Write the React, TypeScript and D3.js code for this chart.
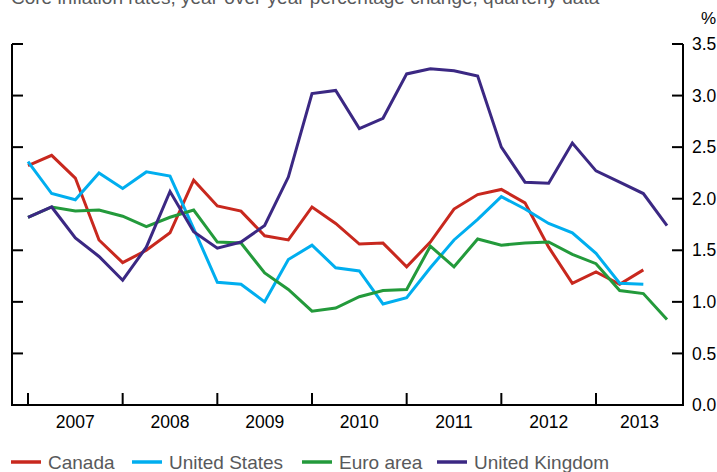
import React from "react";
import { scaleLinear, line, range, format } from "d3";

const years = ["2007", "2008", "2009", "2010", "2011", "2012", "2013"];
const yTicks = [0, 0.5, 1, 1.5, 2, 2.5, 3, 3.5];

// quarterly, 2007Q1 onward
const canada = [2.32, 2.42, 2.2, 1.6, 1.38, 1.5, 1.67, 2.18, 1.93, 1.88, 1.64, 1.6, 1.92, 1.76, 1.56, 1.57, 1.34, 1.58, 1.9, 2.04, 2.09, 1.96, 1.53, 1.18, 1.29, 1.17, 1.31];
const unitedStates = [2.36, 2.05, 1.99, 2.25, 2.1, 2.26, 2.22, 1.71, 1.19, 1.17, 1.0, 1.41, 1.55, 1.33, 1.3, 0.98, 1.04, 1.33, 1.6, 1.8, 2.02, 1.9, 1.76, 1.67, 1.47, 1.18, 1.17];
const euroArea = [1.82, 1.92, 1.88, 1.89, 1.83, 1.73, 1.82, 1.89, 1.58, 1.57, 1.28, 1.12, 0.91, 0.94, 1.05, 1.11, 1.12, 1.54, 1.34, 1.61, 1.55, 1.57, 1.58, 1.46, 1.37, 1.11, 1.08, 0.83];
const unitedKingdom = [1.82, 1.92, 1.62, 1.44, 1.21, 1.53, 2.07, 1.68, 1.52, 1.58, 1.74, 2.21, 3.02, 3.05, 2.68, 2.78, 3.21, 3.26, 3.24, 3.19, 2.5, 2.16, 2.15, 2.54, 2.27, 2.16, 2.05, 1.74];

const series = [
  { name: "Canada", values: canada, color: "#c8281e" },
  { name: "United States", values: unitedStates, color: "#00aeef" },
  { name: "Euro area", values: euroArea, color: "#239a3b" },
  { name: "United Kingdom", values: unitedKingdom, color: "#3b2883" },
];

const legendPos = [11, 132, 302, 437];

const FONT = "'Liberation Sans', Arial, Helvetica, sans-serif";

export default function App() {
  const left = 12;
  const right = 683;
  const x = scaleLinear().domain([0, 27]).range([28, 667]);
  const y = scaleLinear().domain([0, 3.5]).range([405, 44]);
  const fmt = format(".1f");

  const path = line<number>()
    .x((_, i) => x(i))
    .y((d) => y(d));

  const yearTicks = range(years.length).map((k) => x(k * 4));

  return (
    <svg width={717} height={472} style={{ position: "absolute", left: 0, top: 0 }} fontFamily={FONT}>
      <text x={11} y={4} fontSize={19} fill="#58595b">
        Core inflation rates, year-over-year percentage change, quarterly data
      </text>
      <text x={716} y={24} fontSize={17} textAnchor="end" fill="#000">%</text>

      {/* axes frame */}
      <line x1={left} x2={left} y1={y(3.5)} y2={y(0)} stroke="#000" strokeWidth={2} />
      <line x1={right} x2={right} y1={y(3.5)} y2={y(0) + 1} stroke="#000" strokeWidth={2} />
      <line x1={left - 1} x2={right + 1} y1={y(0)} y2={y(0)} stroke="#000" strokeWidth={2} />

      {yTicks.map((t) => (
        <g key={t}>
          <line x1={left} x2={left + 11} y1={y(t)} y2={y(t)} stroke="#000" strokeWidth={2} />
          <line x1={right - 11} x2={right} y1={y(t)} y2={y(t)} stroke="#000" strokeWidth={2} />
          <text x={692} y={y(t)} dy="0.35em" fontSize={17.5} fill="#000">{fmt(t)}</text>
        </g>
      ))}

      {years.map((yr, k) => {
        const x0 = yearTicks[k];
        const x1 = k + 1 < years.length ? yearTicks[k + 1] : right;
        return (
          <g key={yr}>
            <line x1={x0} x2={x0} y1={y(0)} y2={y(0) - 12} stroke="#000" strokeWidth={2} />
            <text x={(x0 + x1) / 2} y={422} dy="0.35em" fontSize={17.5} textAnchor="middle" fill="#000">{yr}</text>
          </g>
        );
      })}

      {series.map((s) => (
        <path key={s.name} d={path(s.values) || ""} fill="none" stroke={s.color} strokeWidth={3} strokeLinejoin="miter" />
      ))}

      {series.map((s, i) => (
        <g key={s.name} transform={`translate(${legendPos[i]},462)`}>
          <line x1={0} x2={30} y1={0} y2={0} stroke={s.color} strokeWidth={3.5} />
          <text x={37} y={0} dy="0.35em" fontSize={19} fill="#58595b">{s.name}</text>
        </g>
      ))}
    </svg>
  );
}
